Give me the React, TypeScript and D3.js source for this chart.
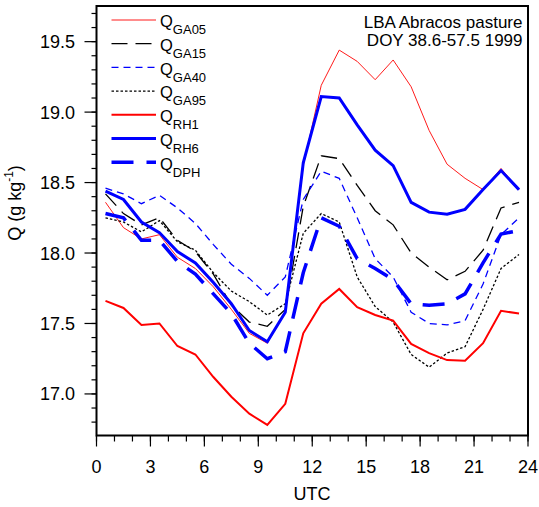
import React from 'react'
import * as d3 from 'd3'

// half-hour bins, UTC
const hours = [0.5, 1.5, 2.5, 3.5, 4.5, 5.5, 6.5, 7.5, 8.5, 9.5, 10.5, 11.5, 12.5, 13.5, 14.5, 15.5, 16.5, 17.5, 18.5, 19.5, 20.5, 21.5, 22.5, 23.5]

const qGA05 = [18.36, 18.18, 18.1, 18.13, 17.97, 17.89, 17.76, 17.6, 17.43, 17.36, 17.58, 18.62, 19.19, 19.44, 19.36, 19.23, 19.37, 19.18, 18.87, 18.63, 18.53, 18.45, 18.6, 18.45]
const qGA15 = [18.42, 18.28, 18.2, 18.25, 18.09, 18.01, 17.85, 17.63, 17.51, 17.48, 17.6, 18.33, 18.69, 18.67, 18.48, 18.3, 18.2, 18.0, 17.9, 17.81, 17.87, 18.02, 18.32, 18.36]
const qGA40 = [18.46, 18.42, 18.35, 18.41, 18.32, 18.21, 18.06, 17.92, 17.82, 17.7, 17.83, 18.38, 18.58, 18.53, 18.25, 17.96, 17.83, 17.58, 17.5, 17.49, 17.52, 17.78, 18.13, 18.25]
const qGA95 = [18.25, 18.22, 18.15, 18.23, 18.08, 18.02, 17.86, 17.73, 17.655, 17.56, 17.64, 18.14, 18.28, 18.22, 17.83, 17.62, 17.51, 17.28, 17.19, 17.29, 17.335, 17.6, 17.89, 17.99]
const qRH1 = [17.66, 17.61, 17.49, 17.5, 17.34, 17.28, 17.12, 16.98, 16.86, 16.78, 16.93, 17.43, 17.64, 17.745, 17.615, 17.56, 17.52, 17.355, 17.29, 17.24, 17.235, 17.36, 17.59, 17.57]
const qRH6 = [18.44, 18.38, 18.22, 18.145, 18.01, 17.93, 17.79, 17.64, 17.45, 17.37, 17.58, 18.64, 19.11, 19.1, 18.91, 18.73, 18.62, 18.36, 18.29, 18.275, 18.31, 18.45, 18.585, 18.45]
const qDPH = [18.28, 18.25, 18.09, 18.09, 17.94, 17.85, 17.71, 17.57, 17.36, 17.25, 17.3, 17.86, 18.25, 18.19, 17.96, 17.89, 17.81, 17.64, 17.63, 17.64, 17.71, 17.93, 18.135, 18.16]

const seriesNames = ['GA05', 'GA15', 'GA40', 'GA95', 'RH1', 'RH6', 'DPH']
const seriesValues = [qGA05, qGA15, qGA40, qGA95, qRH1, qRH6, qDPH]

const xTicks = [0, 3, 6, 9, 12, 15, 18, 21, 24]
const yTicks = [17.0, 17.5, 18.0, 18.5, 19.0, 19.5]

// line styles per series
const styles = [
  { color: '#ff0000', width: 0.9, dash: '' },
  { color: '#000000', width: 1.3, dash: '16,8' },
  { color: '#0000ff', width: 1.3, dash: '7,5' },
  { color: '#000000', width: 1.3, dash: '2.5,2' },
  { color: '#ff0000', width: 2, dash: '' },
  { color: '#0000ff', width: 3, dash: '' },
  { color: '#0000ff', width: 3.5, dash: '22,13' },
]

const font = 'Liberation Sans, Arial, sans-serif'

export default function App() {
  const W = 539
  const H = 507
  const left = 96.5, right = 528, top = 6, bottom = 435.5

  const x = d3.scaleLinear().domain([0, 24]).range([left, right])
  const y = d3.scaleLinear().domain([16.705, 19.753]).range([bottom, top])

  const line = d3.line<number>()
    .x((_, i) => x(hours[i]))
    .y((d) => y(d))

  const xMinor = d3.range(0, 25)
  const yMinor = d3.range(16.8, 19.75, 0.1)

  return (
    <svg width={W} height={H} style={{ position: 'absolute', left: 0, top: 0 }} fontFamily={font}>
      <rect width={W} height={H} fill="#fff" />
      <defs>
        <clipPath id="plot">
          <rect x={left} y={top} width={right - left} height={bottom - top} />
        </clipPath>
      </defs>

      {/* minor ticks */}
      {xMinor.map((t) => (
        <line key={'xm' + t} x1={x(t)} x2={x(t)} y1={bottom} y2={bottom + 6} stroke="#000" strokeWidth={1.2} />
      ))}
      {yMinor.map((t) => (
        <line key={'ym' + t} x1={left - 5} x2={left} y1={y(t)} y2={y(t)} stroke="#000" strokeWidth={1.2} />
      ))}
      {xTicks.map((t) => (
        <g key={'x' + t}>
          <line x1={x(t)} x2={x(t)} y1={bottom} y2={bottom + 11} stroke="#000" strokeWidth={1.2} />
          <text x={x(t)} y={473} textAnchor="middle" fontSize={18}>{t}</text>
        </g>
      ))}
      {yTicks.map((t) => (
        <g key={'y' + t}>
          <line x1={left - 12} x2={left} y1={y(t)} y2={y(t)} stroke="#000" strokeWidth={1.2} />
          <text x={75} y={y(t) + 6.5} textAnchor="end" fontSize={18}>{t.toFixed(1)}</text>
        </g>
      ))}

      <g clipPath="url(#plot)" fill="none" strokeLinejoin="miter">
        {seriesValues.map((vals, i) => (
          <path key={seriesNames[i]} d={line(vals) || ''} stroke={styles[i].color}
            strokeWidth={styles[i].width} strokeDasharray={styles[i].dash || undefined} />
        ))}
      </g>

      <rect x={left} y={top} width={right - left} height={bottom - top} fill="none" stroke="#000" strokeWidth={2} />

      {/* legend */}
      {seriesNames.map((n, i) => {
        const ly = 20 + i * 23.7
        return (
          <g key={'lg' + n}>
            <line x1={111.5} x2={156} y1={ly} y2={ly} stroke={styles[i].color}
              strokeWidth={styles[i].width} strokeDasharray={styles[i].dash || undefined} />
            <text x={160} y={ly + 7.3} fontSize={16.5}>
              Q<tspan fontSize={13} dy={7}>{n}</tspan>
            </text>
          </g>
        )
      })}

      <text x={522.5} y={28} textAnchor="end" fontSize={17}>LBA Abracos pasture</text>
      <text x={522.5} y={46} textAnchor="end" fontSize={17}>DOY 38.6-57.5 1999</text>

      <text x={312} y={500} textAnchor="middle" fontSize={18}>UTC</text>
      <text transform="translate(21,203) rotate(-90)" textAnchor="middle" fontSize={18}>
        Q (g kg<tspan fontSize={12} dy={-8}>-1</tspan><tspan dy={8}>)</tspan>
      </text>
    </svg>
  )
}
